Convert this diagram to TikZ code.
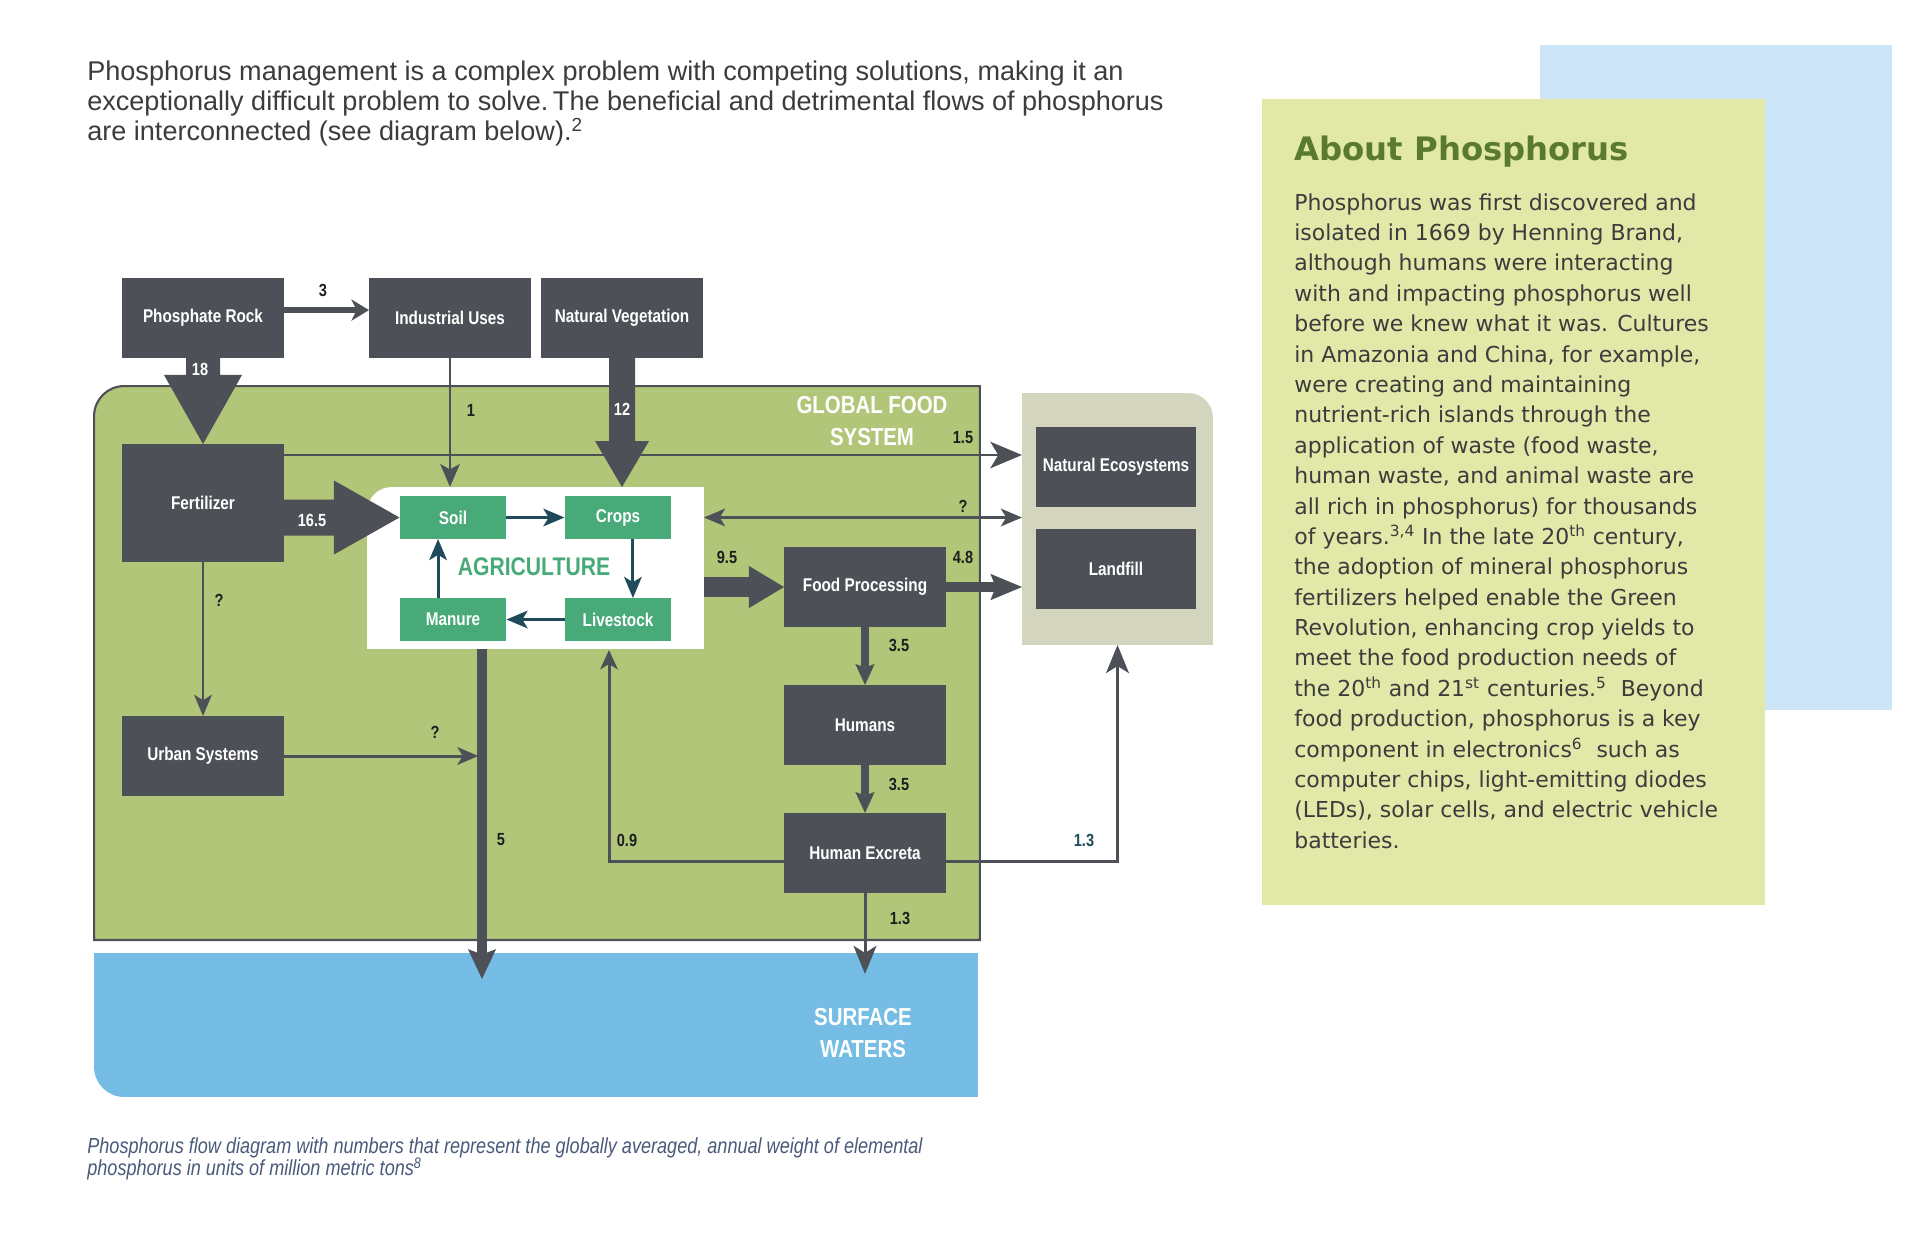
\documentclass[tikz,border=0pt]{standalone}
\usepackage{fontspec}
\setmainfont{Liberation Sans}
\newfontfamily\condfont[FakeStretch=0.83]{Liberation Sans}
\newfontfamily\panelfont{DejaVu Sans}
\usetikzlibrary{arrows.meta,calc}
\definecolor{boxgray}{HTML}{4D5157}
\definecolor{gfsgreen}{HTML}{B2C67A}
\definecolor{waterblue}{HTML}{75BDE5}
\definecolor{sinkgray}{HTML}{D3D5BF}
\definecolor{paleblue}{HTML}{CCE6F7}
\definecolor{panelgreen}{HTML}{E1E8A8}
\definecolor{agrigreen}{HTML}{48AA78}
\definecolor{cycleteal}{HTML}{1F4A5A}
\definecolor{titlegreen}{HTML}{5A7A30}
\definecolor{bodytext}{HTML}{3C3C3C}
\definecolor{capblue}{HTML}{4A5A7A}
\definecolor{numtext}{HTML}{1E1E1E}
\tikzset{
  zone/.style={inner sep=0pt,outer sep=0pt},
  blk/.style={fill=boxgray,text=white,inner sep=0pt,outer sep=0pt,minimum width=3.24cm,minimum height=1.6cm,
    font=\condfont\bfseries\fontsize{10.5}{12}\selectfont},
  agr/.style={fill=agrigreen,text=white,inner sep=0pt,outer sep=0pt,minimum width=2.14cm,minimum height=0.86cm,
    font=\condfont\bfseries\fontsize{10.5}{12}\selectfont},
  num/.style={inner sep=0pt,text=numtext,font=\condfont\bfseries\fontsize{10}{12}\selectfont},
  ttl/.style={inner sep=0pt,text=white,align=center,font=\condfont\bfseries\fontsize{14}{18}\selectfont},
  flow/.style={draw=boxgray,line width=1.7pt,-{Stealth[length=12pt,width=10pt,inset=3pt]}},
  bigflow/.style={draw=boxgray,line width=1.7pt,-{Stealth[length=18pt,width=15pt,inset=4.5pt]}},
  cyc/.style={draw=cycleteal,line width=1.7pt,-{Stealth[length=12pt,width=10pt,inset=3pt]}},
}
\begin{document}
\begin{tikzpicture}[x=0.02cm,y=-0.02cm]
\useasboundingbox (0,0) rectangle (1920,1254);
\fill[white] (0,0) rectangle (1920,1254);
% side panel
\fill[paleblue] (1540,45) rectangle (1892,710);
\fill[panelgreen] (1262,99) rectangle (1765,905);
\node[anchor=base west,inner sep=0pt,text=titlegreen,font=\panelfont\bfseries\fontsize{18.4}{22}\selectfont] (about) at (1294,160) {About Phosphorus};
\node[anchor=north west,inner sep=0pt,align=left,text=bodytext,font=\panelfont\fontsize{12.5}{17.3}\selectfont] (body) at (1294,193)
 {Phosphorus was first discovered and\\isolated in 1669 by Henning Brand,\\although humans were interacting\\with and impacting phosphorus well\\before we knew what it was. Cultures\\in Amazonia and China, for example,\\were creating and maintaining\\nutrient-rich islands through the\\application of waste (food waste,\\human waste, and animal waste are\\all rich in phosphorus) for thousands\\of years.\textsuperscript{3,4} In the late 20\textsuperscript{th} century,\\the adoption of mineral phosphorus\\fertilizers helped enable the Green\\Revolution, enhancing crop yields to\\meet the food production needs of\\the 20\textsuperscript{th} and 21\textsuperscript{st} centuries.\textsuperscript{5}\ \ Beyond\\food production, phosphorus is a key\\component in electronics\textsuperscript{6}\ \ such as\\computer chips, light-emitting diodes\\(LEDs), solar cells, and electric vehicle\\batteries.};
% intro and caption
\node[anchor=north west,inner sep=0pt,align=left,text=bodytext,font=\fontsize{15.4}{16.9}\selectfont] (intro) at (87,61)
 {Phosphorus management is a complex problem with competing solutions, making it an\\exceptionally difficult problem to solve.\,The beneficial and detrimental flows of phosphorus\\are interconnected (see diagram below).\textsuperscript{2}};
\node[anchor=north west,inner sep=0pt,align=left,text=capblue,font=\condfont\itshape\fontsize{12.4}{13}\selectfont] (caption) at (87,1137)
 {Phosphorus flow diagram with numbers that represent the globally averaged, annual weight of elemental\\phosphorus in units of million metric tons\textsuperscript{8}};
% regions
\node[zone,minimum width=17.72cm,minimum height=11.08cm] (gfs) at (537,663) {};
\node[zone,minimum width=17.68cm,minimum height=2.88cm] (water) at (536,1025) {};
\node[zone,minimum width=3.82cm,minimum height=5.04cm] (sinks) at (1117.5,519) {};
\node[zone,minimum width=6.74cm,minimum height=3.24cm] (agri) at (535.5,568) {};
\filldraw[fill=gfsgreen,draw=boxgray,line width=1.2pt] (gfs.south west) -- ([yshift=-0.6cm]gfs.north west)
  .. controls ([yshift=-0.27cm]gfs.north west) and ([xshift=0.27cm]gfs.north west) .. ([xshift=0.6cm]gfs.north west)
  -- (gfs.north east) -- (gfs.south east) -- cycle;
\fill[waterblue] (water.north west) -- ([yshift=0.6cm]water.south west)
  .. controls ([yshift=0.27cm]water.south west) and ([xshift=0.27cm]water.south west) .. ([xshift=0.6cm]water.south west)
  -- (water.south east) -- (water.north east) -- cycle;
\fill[sinkgray] (sinks.south west) -- (sinks.north west) -- ([xshift=-0.5cm]sinks.north east)
  .. controls ([xshift=-0.22cm]sinks.north east) and ([yshift=-0.22cm]sinks.north east) .. ([yshift=-0.5cm]sinks.north east)
  -- (sinks.south east) -- cycle;
\fill[white] (agri.south west) -- ([yshift=-0.5cm]agri.north west)
  .. controls ([yshift=-0.22cm]agri.north west) and ([xshift=0.22cm]agri.north west) .. ([xshift=0.5cm]agri.north west)
  -- (agri.north east) -- (agri.south east) -- cycle;
\node[ttl] (gfsname) at (872,421) {GLOBAL FOOD\\SYSTEM};
\node[ttl] (watername) at (863,1033) {SURFACE\\WATERS};
\node[inner sep=0pt,text=agrigreen,font=\condfont\bfseries\fontsize{14.5}{16}\selectfont] (agriname) at (534,567) {AGRICULTURE};
% boxes
\node[blk] (rock) at (203,318) {Phosphate Rock};
\node[blk] (indus) at (450,318) {Industrial Uses};
\node[blk] (natveg) at (622,318) {Natural Vegetation};
\node[blk,minimum height=2.36cm] (fert) at (203,503) {Fertilizer};
\node[blk] (urban) at (203,756) {Urban Systems};
\node[blk] (foodp) at (865,587) {Food Processing};
\node[blk] (humans) at (865,725) {Humans};
\node[blk] (excreta) at (865,853) {Human Excreta};
\node[blk,minimum width=3.2cm] (nateco) at (1116,467) {Natural Ecosystems};
\node[blk,minimum width=3.2cm] (landfill) at (1116,569) {Landfill};
\node[agr] (soil) at (453,517.5) {Soil};
\node[agr] (crops) at (618,517.5) {Crops};
\node[agr] (manure) at (453,619.5) {Manure};
\node[agr] (livestock) at (618,619.5) {Livestock};
% agriculture cycle
\draw[cyc] (soil.east) -- (crops.west);
\draw[cyc] ([xshift=8.5pt]crops.south) -- ([xshift=8.5pt]livestock.north);
\draw[cyc] (livestock.west) -- (manure.east);
\draw[cyc] ([xshift=-8.5pt]manure.north) -- ([xshift=-8.5pt]soil.south);
% thin flows
\coordinate (fx) at (284,455);
\coordinate (drainEnd) at (482,979);
\coordinate (recycle) at (609,650);
\coordinate (outfall) at ($(excreta.south)+(0,81)$);
\draw[flow,line width=3pt,-{Stealth[length=10pt,width=12pt,inset=3pt]}] ([yshift=4.5pt]rock.east) -- ([yshift=4.5pt]indus.west)
  node[num] at (323,290) {3};
\draw[flow,-{Stealth[length=13pt,width=11pt,inset=3pt]}] (indus.south) -- (indus.south |- agri.north)
  node[num] at (471,410) {1};
\draw[bigflow] (fx) -- (fx -| sinks.west) node[num] at (963,438) {1.5};
\draw[flow,{Stealth[length=12pt,width=10pt,inset=3pt]}-{Stealth[length=12pt,width=10pt,inset=3pt]}]
  (agri.east |- soil.east) -- (sinks.west |- soil.east) node[num] at (963,506) {?};
\draw[flow] (fert.south) -- (urban.north) node[num] at (219,600) {?};
\draw[flow,shorten >=2pt] (urban.east) -- (urban.east -| drainEnd) node[num] at (435,732) {?};
\draw[flow,-{Stealth[length=11pt,width=10pt,inset=3pt]}] ([yshift=-5pt]excreta.west) -| (recycle)
  node[num] at (627,840) {0.9};
\draw[bigflow,-{Stealth[length=16pt,width=13pt,inset=4pt]}] ([yshift=-5pt]excreta.east) -| (sinks.south)
  node[num,text=cycleteal] at (1084,840) {1.3};
\draw[bigflow,-{Stealth[length=16pt,width=13pt,inset=4pt]}] (excreta.south) -- (outfall)
  node[num] at (900,918) {1.3};
% thick flows
\draw[boxgray,line width=5.5pt,-{Stealth[length=17pt,width=16pt,inset=3pt,line width=0pt]}] (agri.south -| drainEnd) -- (drainEnd)
  node[num] at (501,840) {5};
\draw[boxgray,line width=11pt,-{Triangle[length=20pt,width=24pt,line width=0pt]}] (agri.east |- foodp.west) -- (foodp.west)
  node[num] at (727,557) {9.5};
\draw[boxgray,line width=6pt,-{Stealth[length=18pt,width=15pt,inset=3pt,line width=0pt]}] (foodp.east) -- (foodp.east -| sinks.west)
  node[num] at (963,557) {4.8};
\draw[boxgray,line width=4pt,-{Stealth[length=12pt,width=11pt,inset=2pt,line width=0pt]}] (foodp.south) -- (humans.north)
  node[num] at (899,645) {3.5};
\draw[boxgray,line width=4pt,-{Stealth[length=12pt,width=11pt,inset=2pt,line width=0pt]}] (humans.south) -- (excreta.north)
  node[num] at (899,784) {3.5};
% block arrows
\fill[boxgray] ($(rock.south)+(-17,0)$) -- ($(rock.south)+(-17,17)$) -- ($(rock.south)+(-39,17)$) -- (fert.north)
  -- ($(rock.south)+(39,17)$) -- ($(rock.south)+(17,17)$) -- ($(rock.south)+(17,0)$) -- cycle;
\node[num,text=white] (n18) at (200,369) {18};
\coordinate (fs) at (fert.east |- soil.west);
\fill[boxgray] ($(fs)+(0,-18)$) -- ($(fs)+(50,-18)$) -- ($(fs)+(50,-37)$) -- (soil.west)
  -- ($(fs)+(50,37)$) -- ($(fs)+(50,18)$) -- ($(fs)+(0,18)$) -- cycle;
\node[num,text=white] (n165) at (312,520) {16.5};
\coordinate (nv) at (natveg.south |- agri.north);
\fill[boxgray] ($(natveg.south)+(-13,0)$) -- ($(nv)+(-13,-46)$) -- ($(nv)+(-27,-46)$) -- (nv)
  -- ($(nv)+(27,-46)$) -- ($(nv)+(13,-46)$) -- ($(natveg.south)+(13,0)$) -- cycle;
\node[num,text=white] (n12) at (622,409) {12};
\end{tikzpicture}
\end{document}
